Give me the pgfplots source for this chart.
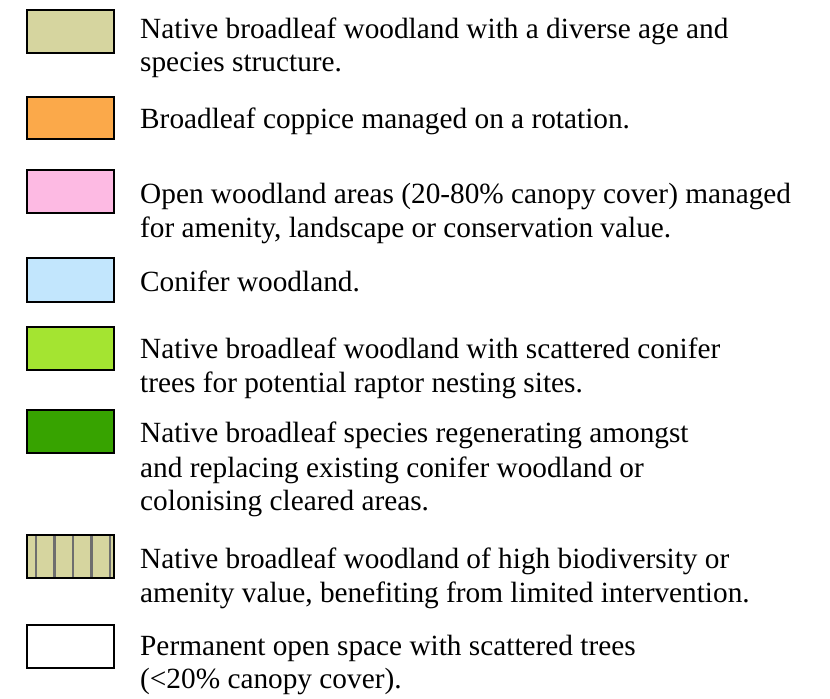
\documentclass[border=0pt]{standalone}
\usepackage{pgfplots}
\pgfplotsset{compat=1.18}
\usepackage{fontspec}
\setmainfont{Liberation Serif}
\definecolor{ctan}{RGB}{214,213,159}
\definecolor{corange}{RGB}{251,169,74}
\definecolor{cpink}{RGB}{253,186,227}
\definecolor{cblue}{RGB}{194,230,253}
\definecolor{clime}{RGB}{164,228,49}
\definecolor{cgreen}{RGB}{55,163,0}
\definecolor{cgrayline}{RGB}{110,110,110}
\tikzset{lab/.style={anchor=base west, inner sep=0pt, font=\fontsize{29.3bp}{34bp}\selectfont}}
\begin{document}
\begin{tikzpicture}
\begin{axis}[
  scale only axis, width=830bp, height=698bp,
  xmin=0, xmax=830, ymin=0, ymax=698, y dir=reverse,
  axis lines=none, clip=false,
]
\path (rel axis cs:0,0) rectangle (rel axis cs:1,1);
\pgfplotsset{sw/.style={draw=black, line width=2.4bp}}
\addplot[sw, fill=ctan] coordinates {(27,10) (114,10) (114,53) (27,53)} -- cycle;
\addplot[sw, fill=corange] coordinates {(27,97) (114,97) (114,139) (27,139)} -- cycle;
\addplot[sw, fill=cpink] coordinates {(27,170) (114,170) (114,213) (27,213)} -- cycle;
\addplot[sw, fill=cblue] coordinates {(27,258) (114,258) (114,302) (27,302)} -- cycle;
\addplot[sw, fill=clime] coordinates {(27,327) (114,327) (114,370) (27,370)} -- cycle;
\addplot[sw, fill=cgreen] coordinates {(27,410) (114,410) (114,453) (27,453)} -- cycle;
\addplot[draw=none, fill=ctan] coordinates {(27,535) (114,535) (114,578) (27,578)} -- cycle;
\addplot[cgrayline, line width=2.2bp] coordinates {(36,535) (36,578)};
\addplot[cgrayline, line width=2.2bp] coordinates {(54.5,535) (54.5,578)};
\addplot[cgrayline, line width=2.2bp] coordinates {(73,535) (73,578)};
\addplot[cgrayline, line width=2.2bp] coordinates {(91.5,535) (91.5,578)};
\addplot[cgrayline, line width=2.2bp] coordinates {(110,535) (110,578)};
\addplot[sw, fill=none] coordinates {(27,535) (114,535) (114,578) (27,578)} -- cycle;
\addplot[sw, fill=white] coordinates {(27,625) (114,625) (114,668) (27,668)} -- cycle;

\node[lab] at (axis cs:140,39) {Native broadleaf woodland with a diverse age and};
\node[lab] at (axis cs:140,72) {species structure.};
\node[lab] at (axis cs:140,128) {Broadleaf coppice managed on a rotation.};
\node[lab] at (axis cs:140,203) {Open woodland areas (20-80\% canopy cover) managed};
\node[lab] at (axis cs:140,237) {for amenity, landscape or conservation value.};
\node[lab] at (axis cs:140,291) {Conifer woodland.};
\node[lab] at (axis cs:140,358) {Native broadleaf woodland with scattered conifer};
\node[lab] at (axis cs:140,392) {trees for potential raptor nesting sites.};
\node[lab] at (axis cs:140,442) {Native broadleaf species regenerating amongst};
\node[lab] at (axis cs:140,477) {and replacing existing conifer woodland or};
\node[lab] at (axis cs:140,510) {colonising cleared areas.};
\node[lab] at (axis cs:140,568) {Native broadleaf woodland of high biodiversity or};
\node[lab] at (axis cs:140,602) {amenity value, benefiting from limited intervention.};
\node[lab] at (axis cs:140,655) {Permanent open space with scattered trees};
\node[lab] at (axis cs:140,688) {(<20\% canopy cover).};
\end{axis}
\end{tikzpicture}
\end{document}
